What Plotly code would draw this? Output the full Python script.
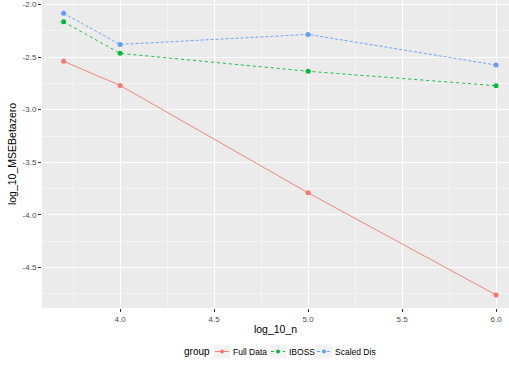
import plotly.graph_objects as go

# log10 of sample size
log_10_n = [3.699, 4.0, 5.0, 6.0]

# log10 of MSE for beta_0, per method
full_data = [-2.54, -2.77, -3.79, -4.76]
iboss = [-2.165, -2.465, -2.635, -2.772]
scaled_dis = [-2.085, -2.38, -2.285, -2.576]

groups = ["Full Data", "IBOSS", "Scaled Dis"]
series = [full_data, iboss, scaled_dis]
colors = ["#F8766D", "#00BA38", "#619CFF"]
dashes = ["solid", "dot", "3px,2px"]

x_ticks = [4.0, 4.5, 5.0, 5.5, 6.0]
y_ticks = [-2.0, -2.5, -3.0, -3.5, -4.0, -4.5]

W, H = 509, 368
M_L, M_R, M_T, M_B = 42, 0, 0, 60
font_family = "Liberation Sans, Arial, sans-serif"

fig = go.Figure()
for name, ys, col, dash in zip(groups, series, colors, dashes):
    fig.add_trace(go.Scatter(
        x=log_10_n, y=ys, name=name, mode="lines+markers",
        line=dict(color=col, width=0.9, dash=dash),
        marker=dict(color=col, size=5),
        showlegend=False,
    ))

grid = dict(
    showgrid=True, gridcolor="white", gridwidth=1,
    minor=dict(showgrid=True, gridcolor="#F4F4F4", gridwidth=0.6),
    zeroline=False, showline=False,
    ticks="outside", ticklen=3, tickcolor="#333333",
    ticklabeloverflow="allow",
    tickfont=dict(size=8, color="#4D4D4D", family=font_family),
)

fig.update_xaxes(
    range=[3.584, 6.069], tickvals=x_ticks,
    ticktext=[f"{v:.1f}" for v in x_ticks],
    minor_tickvals=[3.75, 4.25, 4.75, 5.25, 5.75],
    title=dict(text="log_10_n", font=dict(size=10.5, color="black", family=font_family), standoff=3),
    **grid,
)
fig.update_yaxes(
    range=[-4.884, -1.958], tickvals=y_ticks,
    ticktext=[f"{v:.1f}" for v in y_ticks],
    minor_tickvals=[-1.75, -2.25, -2.75, -3.25, -3.75, -4.25, -4.75],
    title=dict(text="log_10_MSEBetazero", font=dict(size=10.5, color="black", family=font_family), standoff=3),
    **grid,
)


# Legend drawn below the panel: helpers convert window pixels to paper coords
def px(x):
    return (x - M_L) / (W - M_L - M_R)


def py(y):
    return (H - M_B - y) / (H - M_T - M_B)


legend_y = 351.5
fig.add_annotation(
    text="group", xref="paper", yref="paper", x=px(182), y=py(legend_y),
    xanchor="left", yanchor="middle", showarrow=False,
    font=dict(size=10, color="black", family=font_family),
)
key_left = [214, 270, 316]
for name, col, dash, kx in zip(groups, colors, dashes, key_left):
    fig.add_shape(type="rect", xref="paper", yref="paper",
                  x0=px(kx), x1=px(kx + 16), y0=py(legend_y - 7), y1=py(legend_y + 7),
                  fillcolor="#F2F2F2", line=dict(width=0))
    fig.add_shape(type="line", xref="paper", yref="paper",
                  x0=px(kx + 1), x1=px(kx + 15), y0=py(legend_y), y1=py(legend_y),
                  line=dict(color=col, width=0.9, dash=dash))
    fig.add_shape(type="circle", xref="paper", yref="paper",
                  x0=px(kx + 6), x1=px(kx + 10), y0=py(legend_y - 2), y1=py(legend_y + 2),
                  fillcolor=col, line=dict(width=0))
    fig.add_annotation(
        text=name, xref="paper", yref="paper", x=px(kx + 16.5), y=py(legend_y),
        xanchor="left", yanchor="middle", showarrow=False,
        font=dict(size=8.5, color="black", family=font_family),
    )

fig.update_layout(
    width=W, height=H,
    margin=dict(l=M_L, r=M_R, t=M_T, b=M_B),
    plot_bgcolor="#EBEBEB", paper_bgcolor="white",
    font=dict(family=font_family),
    showlegend=False,
)

fig.write_html("out.html")
